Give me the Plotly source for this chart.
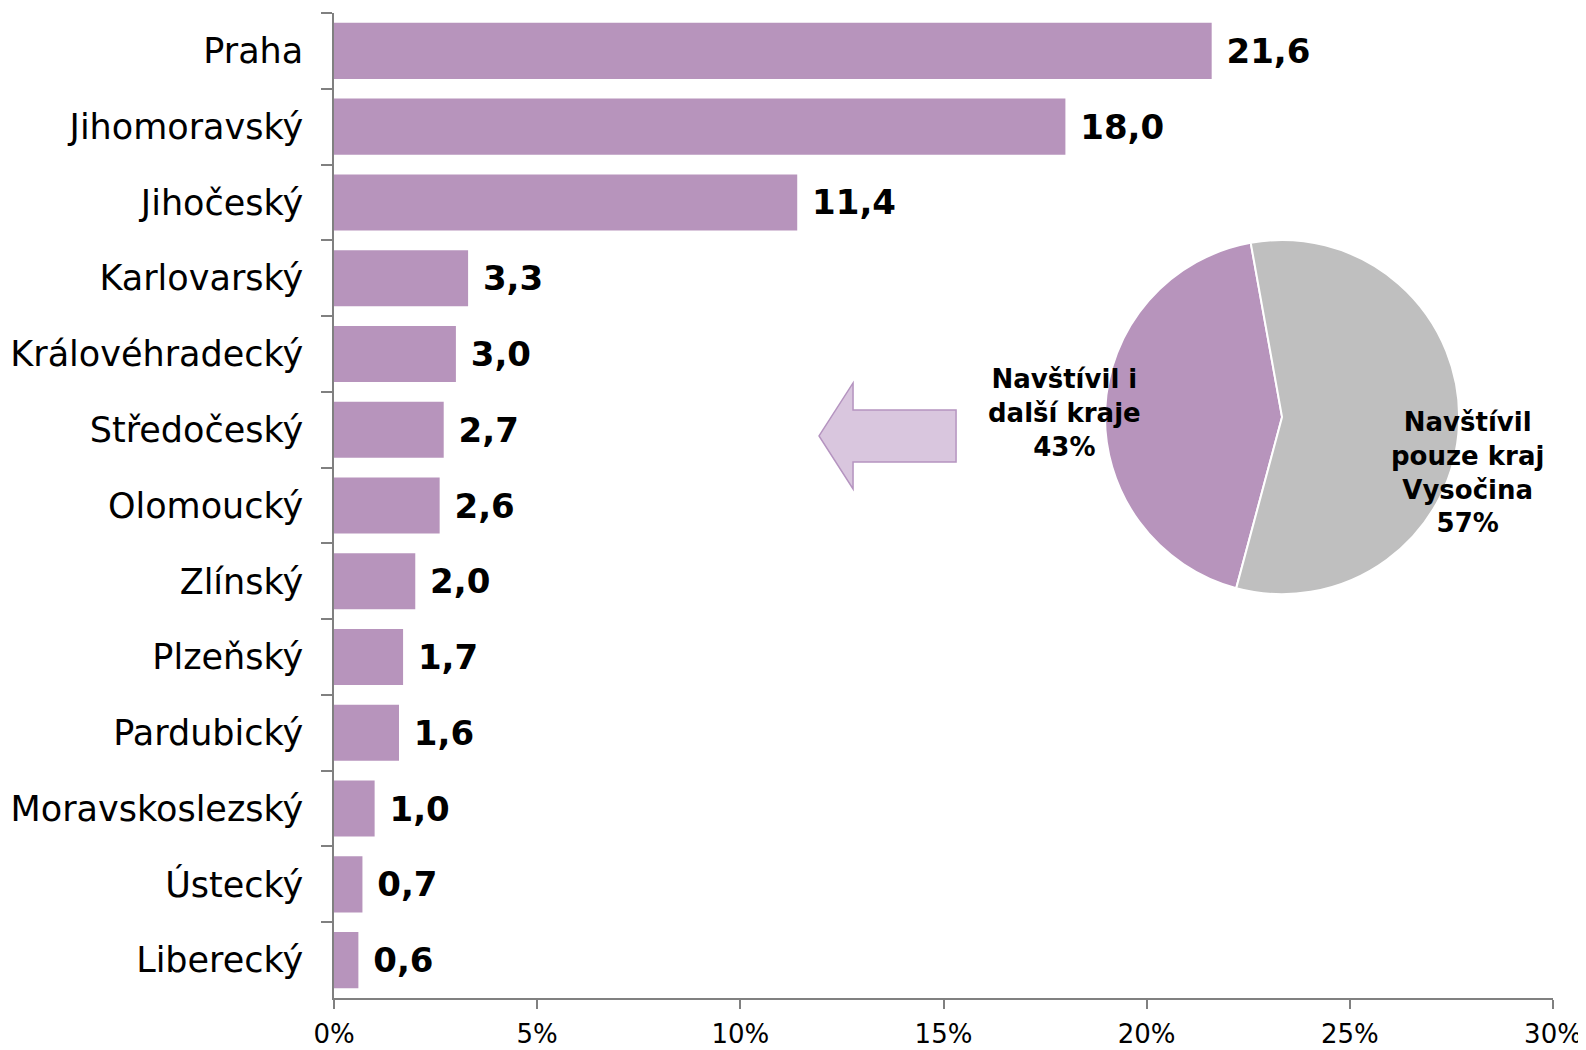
import plotly.graph_objects as go

# regions visited besides Vysočina, share of visitors (%)
regions = ["Praha", "Jihomoravský", "Jihočeský", "Karlovarský", "Královéhradecký",
           "Středočeský", "Olomoucký", "Zlínský", "Plzeňský", "Pardubický",
           "Moravskoslezský", "Ústecký", "Liberecký"]
shares = [21.6, 18.0, 11.4, 3.3, 3.0, 2.7, 2.6, 2.0, 1.7, 1.6, 1.0, 0.7, 0.6]

# pie: visited other regions vs. only Vysočina
pie_labels = ["Navštívil i<br>další kraje<br>43%", "Navštívil<br>pouze kraj<br>Vysočina<br>57%"]
pie_values = [43, 57]

x_ticks = [0, 5, 10, 15, 20, 25, 30]

BAR_COLOR = "#b794bc"
PIE_GREY = "#bfbfbf"
AXIS_COLOR = "#808080"
FONT = "DejaVu Sans, Verdana, sans-serif"

fig = go.Figure()

fig.add_trace(go.Bar(
    y=regions,
    x=shares,
    orientation="h",
    marker=dict(color=BAR_COLOR, line=dict(width=0)),
    text=["\u00a0" + f"{v:.1f}".replace(".", ",") for v in shares],
    textposition="outside",
    textfont=dict(family=FONT, size=34, color="black", weight="bold"),
    constraintext="none",
    cliponaxis=False,
    showlegend=False,
    hoverinfo="skip",
))

fig.add_trace(go.Pie(
    values=pie_values,
    labels=["další kraje", "pouze Vysočina"],
    marker=dict(colors=[BAR_COLOR, PIE_GREY], line=dict(color="white", width=2)),
    sort=False,
    direction="counterclockwise",
    rotation=-165,
    textinfo="none",
    domain=dict(x=[0.6325, 0.923], y=[0.41, 0.7695]),
    showlegend=False,
    hoverinfo="skip",
))

# pie labels
fig.add_annotation(x=0.599, y=0.594, xref="paper", yref="paper", text="<b>" + pie_labels[0] + "</b>",
                   xanchor="center", yanchor="middle",
                   showarrow=False, align="center", font=dict(family=FONT, size=26, color="black"))
fig.add_annotation(x=0.9295, y=0.533, xref="paper", yref="paper", text="<b>" + pie_labels[1] + "</b>",
                   xanchor="center", yanchor="middle",
                   showarrow=False, align="center", font=dict(family=FONT, size=26, color="black"))

# left-pointing block arrow between the pie and the bars
fig.add_shape(
    type="path", xref="paper", yref="paper",
    path="M 0.3979 0.5706 L 0.4258 0.6244 L 0.4258 0.5970 L 0.5103 0.5970 "
         "L 0.5103 0.5442 L 0.4258 0.5442 L 0.4258 0.5168 Z",
    fillcolor="#d9c6de", line=dict(color="#b594c0", width=1.5),
)

# page body adds an 8px offset, so the figure is sized to fit the window
fig.update_layout(
    width=1578, height=1042,
    margin=dict(l=326, r=33, t=5, b=52),
    paper_bgcolor="white", plot_bgcolor="white",
    bargap=0.26,
    font=dict(family=FONT, color="black"),
    xaxis=dict(
        range=[0, 30], tickvals=x_ticks, ticktext=[f"{t}%" for t in x_ticks],
        showgrid=False, zeroline=False, automargin=False,
        showline=True, linecolor=AXIS_COLOR, linewidth=1.5,
        ticks="outside", ticklen=9, tickcolor=AXIS_COLOR, tickwidth=1.5,
        tickfont=dict(size=26, family=FONT), ticklabelstandoff=3,
    ),
    yaxis=dict(
        autorange="reversed", categoryorder="array", categoryarray=regions,
        showgrid=False, zeroline=False, automargin=False,
        showline=True, linecolor=AXIS_COLOR, linewidth=1.5,
        ticks="outside", tickson="boundaries", ticklen=11, tickcolor=AXIS_COLOR, tickwidth=1.5,
        tickfont=dict(size=35, family=FONT), ticklabelstandoff=22,
    ),
)

fig.write_html("out.html")
